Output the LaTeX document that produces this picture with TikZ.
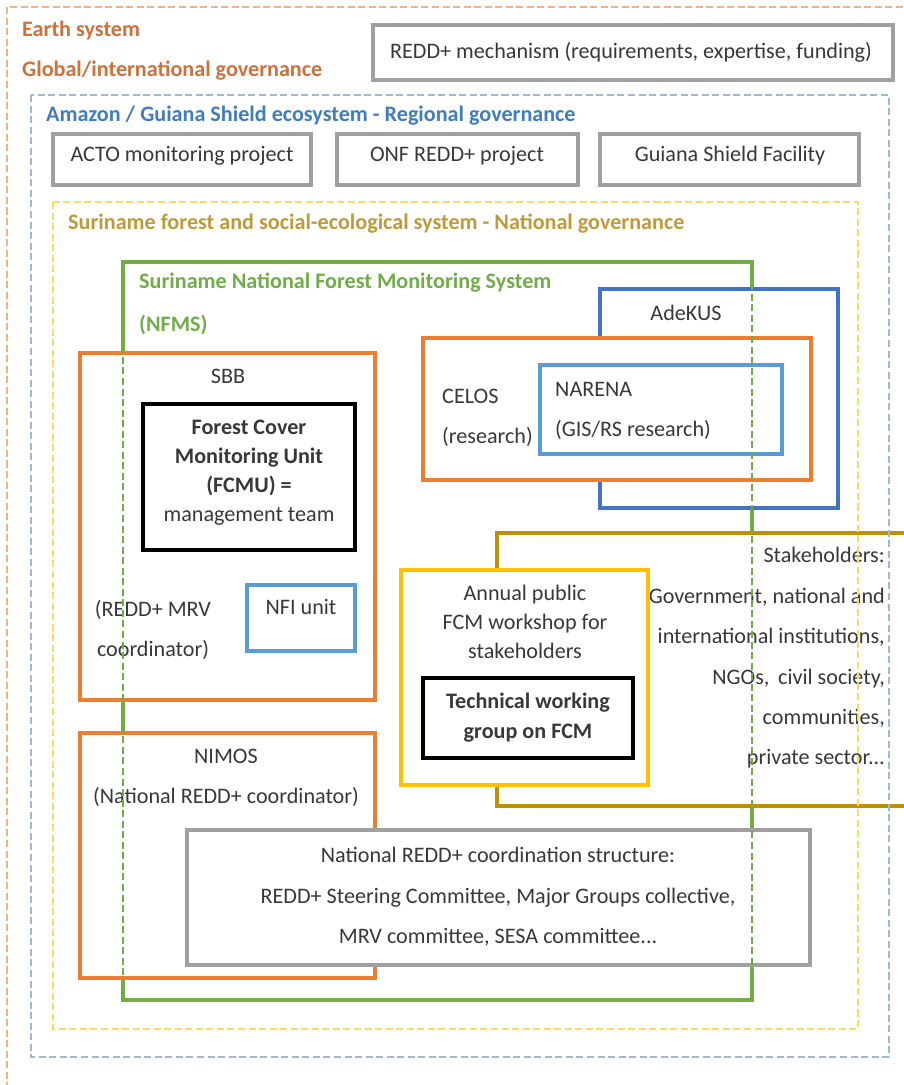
\documentclass[tikz,border=0pt]{standalone}
\usepackage{fontspec}
\setmainfont{Carlito}
\usepackage{xcolor}
\usepackage{tikz}

\definecolor{boxorange}{HTML}{ED7D31}
\definecolor{boxgray}{HTML}{A0A0A0}
\definecolor{boxgreen}{HTML}{70AD47}
\definecolor{boxblue}{HTML}{4472C4}
\definecolor{boxlightblue}{HTML}{5B9BD5}
\definecolor{boxyellow}{HTML}{FFC000}
\definecolor{boxgold}{HTML}{BF9000}
\definecolor{earthline}{HTML}{F4B183}
\definecolor{regionline}{HTML}{9DB8D8}
\definecolor{nationline}{HTML}{FFD966}
\definecolor{earthtext}{HTML}{D0703A}
\definecolor{regiontext}{HTML}{3F7CC0}
\definecolor{nationtext}{HTML}{C09A3A}
\definecolor{bodytext}{HTML}{383838}

\begin{document}
\begin{tikzpicture}[x=0.02cm,y=-0.02cm,
font=\fontsize{12.6}{23}\selectfont,
every node/.style={text=bodytext},
frameline/.style={line width=0.6pt,dash pattern=on 4pt off 2pt},
graybox/.style={draw=boxgray,line width=2.8pt,fill=white},
orangebox/.style={draw=boxorange,line width=2.4pt,fill=white},
blackbox/.style={draw=black,line width=2.4pt,fill=white},
title/.style={anchor=west,font=\fontsize{12.6}{23}\selectfont\bfseries},
tight/.style={align=center,font=\fontsize{12.6}{16.5}\selectfont},
]
\useasboundingbox (0,0) rectangle (903,1085);

% earth system and global level
\draw[frameline,earthline] (7,1100) -- (7,7) -- (915,7);
\node[title,text=earthtext] (earth) at (16,30) {Earth system};
\node[title,text=earthtext] (global) at (16,71) {Global/international governance};
\draw[graybox] (373,25) rectangle (893,80);
\node (redd) at (631,52) {REDD+ mechanism (requirements, expertise, funding)};

% regional level
\node[title,text=regiontext] (amazon) at (40,116) {Amazon / Guiana Shield ecosystem - Regional governance};
\draw[graybox] (53,134) rectangle (311,185);
\node (acto) at (182,156) {ACTO monitoring project};
\draw[graybox] (337,134) rectangle (578,185);
\node (onf) at (457,156) {ONF REDD+ project};
\draw[graybox] (600,134) rectangle (859,185);
\node (gsf) at (730,156) {Guiana Shield Facility};

% national level
\node[title,text=nationtext] (suriname) at (62,224) {Suriname forest and social-ecological system - National governance};
\draw[boxgreen,line width=2.2pt] (123,262) rectangle (752,1000);
\node[title,text=boxgreen] (nfms) at (133,283) {Suriname National Forest Monitoring System};
\node[title,text=boxgreen] (nfmsabbr) at (133,325) {(NFMS)};

% SBB
\draw[orangebox] (80,353) rectangle (375,700);
\node (sbb) at (228,376) {SBB};
\draw[blackbox] (143,404) rectangle (355,550);
\node[tight] (fcmu) at (249,473) {\textbf{Forest Cover}\\\textbf{Monitoring Unit}\\\textbf{(FCMU) =}\\management team};
\node[align=center] (mrv) at (153,630) {(REDD+ MRV\\coordinator)};
\draw[draw=boxlightblue,line width=2pt,fill=white] (247,585) rectangle (355,651);
\node (nfi) at (301,607) {NFI unit};

% NIMOS
\draw[orangebox] (80,733) rectangle (375,978);
\node[align=center] (nimos) at (226,778) {NIMOS\\(National REDD+ coordinator)};

% AdeKUS, CELOS, NARENA
\draw[draw=boxblue,line width=2.4pt,fill=white] (600,289) rectangle (838,508);
\node (adekus) at (686,313) {AdeKUS};
\draw[orangebox] (423,338) rectangle (811,480);
\node[anchor=west,align=left] (celos) at (436,418) {CELOS\\(research)};
\draw[draw=boxlightblue,line width=2.2pt,fill=white] (540,365) rectangle (782,454);
\node[anchor=west,align=left] (narena) at (549,411) {NARENA\\(GIS/RS research)};

% stakeholders and workshop
\draw[draw=boxgold,line width=2.4pt,fill=white] (497,533) rectangle (915,806);
\node[anchor=east,align=right] (stake) at (891,658) {Stakeholders:\\Government, national and\\international institutions,\\NGOs,\, civil society,\\communities,\\private sector...};
\draw[draw=boxyellow,line width=2.6pt,fill=white] (401,570) rectangle (648,785);
\node[tight] (workshop) at (525,622) {Annual public\\FCM workshop for\\stakeholders};
\draw[blackbox] (423,678) rectangle (633,758);
\node[tight,font=\fontsize{12.6}{17}\selectfont\bfseries] (twg) at (528,718) {Technical working\\group on FCM};

% coordination structure
\draw[graybox] (187,830) rectangle (810,965);
\node[align=center] (coord) at (498,897) {National REDD+ coordination structure:\\REDD+ Steering Committee, Major Groups collective,\\MRV committee, SESA committee...};

% dashed frames on top
\draw[frameline,boxgreen] (123,262) rectangle (752,1000);
\draw[frameline,nationline] (53,202) rectangle (858,1029);
\draw[frameline,regionline] (31,95) rectangle (889,1057);
\end{tikzpicture}
\end{document}
